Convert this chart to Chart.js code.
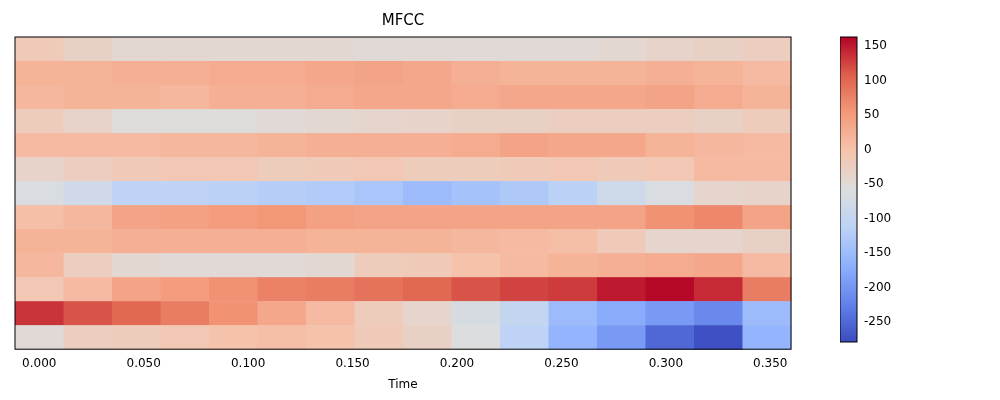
<!DOCTYPE html>
<html><head><meta charset="utf-8">
<script src="https://cdn.jsdelivr.net/npm/chart.js@4/dist/chart.umd.min.js"></script>
<style>
body{margin:0;background:#fff;font-family:"DejaVu Sans";}
#main{position:absolute;left:0;top:0;}
#cbar{position:absolute;left:840px;top:0;}
</style></head><body>
<canvas id="main" width="800" height="400"></canvas>
<canvas id="cbar" width="160" height="400"></canvas>
<script>
const hop = 0.02322;
const vmin = -279, vmax = 163;
const cbTicks = [-250, -200, -150, -100, -50, 0, 50, 100, 150];
const xTicks = [0, 0.05, 0.1, 0.15, 0.2, 0.25, 0.3, 0.35];
// rows from top of picture (coef 12) down to coef 0
const mfcc = [
  [-15,-30,-45,-45,-45,-45,-45,-50,-50,-50,-50,-50,-45,-35,-30,-25],
  [20,20,25,25,30,30,35,40,35,25,20,20,20,25,20,10],
  [15,20,20,15,25,25,30,35,35,30,35,35,35,40,30,20],
  [-20,-35,-55,-55,-55,-50,-45,-40,-35,-30,-30,-25,-25,-25,-30,-20],
  [10,10,10,15,15,20,25,25,25,30,40,35,35,20,15,10],
  [-35,-25,-15,-10,-10,-20,-15,-10,-20,-20,-15,-10,-15,-10,10,10],
  [-65,-80,-110,-110,-115,-120,-125,-135,-150,-140,-130,-115,-85,-65,-40,-35],
  [5,15,40,45,50,55,45,40,40,40,40,40,40,60,70,40],
  [20,20,25,25,25,25,20,20,20,15,10,5,-15,-40,-40,-30],
  [15,-25,-45,-50,-50,-50,-45,-20,-15,0,10,20,25,30,35,10],
  [-10,10,40,50,60,75,80,90,100,115,125,130,150,160,140,80],
  [135,115,100,80,60,35,10,-20,-40,-70,-100,-150,-175,-195,-215,-150],
  [-50,-25,-20,-10,0,5,0,-15,-30,-60,-110,-160,-195,-250,-275,-160]
];

const cw = [[0,59,76,192],[0.125,98,130,234],[0.25,141,176,254],[0.375,188,210,246],
  [0.5,221,221,221],[0.625,245,196,173],[0.75,244,154,123],[0.875,222,96,77],[1,180,4,38]];
function cmap(t){
  t = Math.max(0, Math.min(1, t));
  for (let i = 1; i < cw.length; i++) {
    if (t <= cw[i][0]) {
      const a = cw[i-1], b = cw[i], f = (t - a[0]) / (b[0] - a[0]);
      return 'rgb(' + [1,2,3].map(k => Math.round(a[k] + f*(b[k]-a[k]))).join(',') + ')';
    }
  }
}

const heatPlugin = {
  id: 'heat',
  beforeDatasetsDraw(chart) {
    const {ctx, scales: {x, y}} = chart;
    const n = mfcc.length;
    mfcc.forEach((row, r) => {
      const coef = n - 1 - r;
      row.forEach((v, c) => {
        const x0 = x.getPixelForValue((c - 0.5) * hop), x1 = x.getPixelForValue((c + 0.5) * hop);
        const y0 = y.getPixelForValue(coef + 1), y1 = y.getPixelForValue(coef);
        ctx.fillStyle = cmap((v - vmin) / (vmax - vmin));
        ctx.fillRect(x0, y0, x1 - x0 + 0.5, y1 - y0 + 0.5);
      });
    });
  },
  afterDraw(chart) {
    const a = chart.chartArea, ctx = chart.ctx;
    ctx.strokeStyle = '#000'; ctx.lineWidth = 1;
    ctx.strokeRect(a.left, a.top, a.right - a.left, a.bottom - a.top);
  }
};

new Chart(document.getElementById('main'), {
  type: 'scatter',
  data: {datasets: [{data: []}]},
  plugins: [heatPlugin],
  options: {
    responsive: false, animation: false,
    layout: {padding: {left: 15, right: 9, top: 0, bottom: 4}},
    plugins: {
      legend: {display: false}, tooltip: {enabled: false},
      title: {display: true, text: 'MFCC', color: '#000', font: {size: 15, weight: 'normal', family: 'DejaVu Sans'}, padding: {top: 12, bottom: 7}}
    },
    scales: {
      x: {
        type: 'linear', min: -0.5 * hop, max: 15.5 * hop,
        afterBuildTicks: s => { s.ticks = xTicks.map(v => ({value: v})); },
        ticks: {callback: v => v.toFixed(3), color: '#000', maxRotation: 0, font: {size: 12, family: 'DejaVu Sans'}},
        grid: {display: false, drawTicks: true, tickLength: 4},
        border: {display: false},
        title: {display: true, text: 'Time', color: '#000', font: {size: 12, family: 'DejaVu Sans'}}
      },
      y: {type: 'linear', min: 0, max: 13, display: false}
    }
  }
});

const cbPlugin = {
  id: 'cb',
  beforeDatasetsDraw(chart) {
    const {ctx, chartArea: a, scales: {y}} = chart;
    const g = ctx.createLinearGradient(0, y.getPixelForValue(vmin), 0, y.getPixelForValue(vmax));
    for (let i = 0; i <= 40; i++) g.addColorStop(i / 40, cmap(i / 40));
    ctx.fillStyle = g;
    ctx.fillRect(a.left, a.top, a.right - a.left, a.bottom - a.top);
    ctx.strokeStyle = '#000'; ctx.lineWidth = 1;
    ctx.strokeRect(a.left, a.top, a.right - a.left, a.bottom - a.top);
  }
};

new Chart(document.getElementById('cbar'), {
  type: 'scatter',
  data: {datasets: [{data: []}]},
  plugins: [cbPlugin],
  options: {
    responsive: false, animation: false,
    layout: {padding: {left: 0, right: 0, top: 37, bottom: 58}},
    plugins: {legend: {display: false}, tooltip: {enabled: false}},
    scales: {
      x: {display: false, min: 0, max: 1},
      y: {
        type: 'linear', position: 'right', min: vmin, max: vmax,
        afterBuildTicks: s => { s.ticks = cbTicks.map(v => ({value: v})); },
        afterFit: s => { s.width = 143; },
        ticks: {color: '#000', font: {size: 12, family: 'DejaVu Sans'}},
        grid: {display: false, drawTicks: true, tickLength: 4},
        border: {display: false}
      }
    }
  }
});
</script>
</body></html>
